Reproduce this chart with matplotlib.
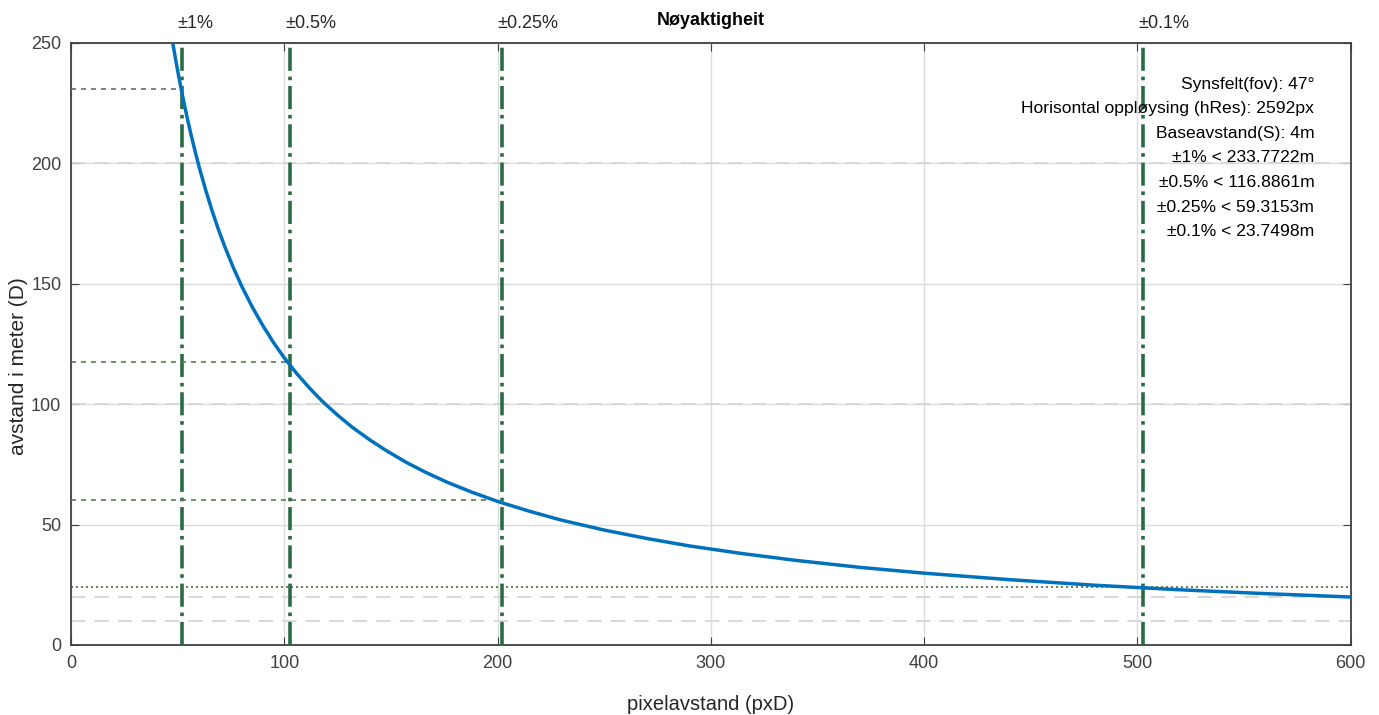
import matplotlib
matplotlib.use('Agg')
import matplotlib.pyplot as plt

plt.rcParams['font.family'] = ['Liberation Sans', 'DejaVu Sans']

# data
pxd = [47.7, 49, 50.5, 52, 54, 56, 58, 60, 63, 66, 69, 72, 76, 80, 85, 90, 95,
       100, 106, 112, 118, 125, 132, 140, 148, 157, 166, 176, 188, 200, 215,
       230, 250, 270, 290, 315, 340, 370, 400, 440, 480, 520, 560, 600]
dist = [250, 243.3, 236.1, 229.3, 220.8, 212.9, 205.6, 198.7, 189.3, 180.7,
        172.8, 165.6, 156.9, 149.0, 140.3, 132.5, 125.5, 119.2, 112.5, 106.5,
        101.0, 95.4, 90.3, 85.2, 80.6, 75.9, 71.8, 67.7, 63.4, 59.6, 55.5,
        51.8, 47.7, 44.2, 41.1, 37.9, 35.1, 32.2, 29.8, 27.1, 24.8, 22.9,
        21.3, 19.9]

levels = ['±1%', '±0.5%', '±0.25%', '±0.1%']
lvl_px = [51.8, 102.5, 202, 502.5]
lvl_d = [231, 117.5, 60, 24]
ref_lines = [10, 20]

info = ['Synsfelt(fov): 47°',
        'Horisontal oppløysing (hRes): 2592px',
        'Baseavstand(S): 4m',
        '±1% < 233.7722m',
        '±0.5% < 116.8861m',
        '±0.25% < 59.3153m',
        '±0.1% < 23.7498m']

fig = plt.figure(figsize=(13.79, 7.15), dpi=100)
ax = fig.add_axes([0.0515, 0.098, 0.928, 0.842])

ax.set_xlim(0, 600)
ax.set_ylim(0, 250)
ax.set_xticks([0, 100, 200, 300, 400, 500, 600])
ax.set_yticks([0, 50, 100, 150, 200, 250])
ax.grid(True, color='#dcdcdc', linewidth=1.0)
ax.set_axisbelow(True)

# dashed grey reference lines
for v in [100, 200] + ref_lines:
    ax.axhline(v, color='#d6d6d6', linestyle=(0, (8, 5)), linewidth=1.3, zorder=1)

# accuracy markers
for p in lvl_px:
    ax.axvline(p, color='#2a6b45', linestyle='-.', linewidth=2.6, zorder=3)
for p, d in zip(lvl_px[:3], lvl_d[:3]):
    ax.plot([0, p], [d, d], color='#5c7a4c', linestyle=(0, (3, 3)), linewidth=1.2, zorder=3)
ax.axhline(lvl_d[3], color='#4f6b3a', linestyle=(0, (1.2, 1.8)), linewidth=1.2, zorder=3)

ax.plot(pxd, dist, color='#0072BD', linewidth=2.5, zorder=4)

for lab, p in zip(levels, lvl_px):
    ax.text(p - 2, 254.5, lab, ha='left', va='bottom', fontsize=13, color='#262626')

ax.text(0.9715, 0.944, '\n'.join(info), transform=ax.transAxes, ha='right', va='top',
        fontsize=12.6, linespacing=1.8, color='black', zorder=5)

ax.set_title('Nøyaktigheit', fontsize=13, fontweight='bold', pad=13)
ax.set_xlabel('pixelavstand (pxD)', fontsize=14.5, color='#262626', labelpad=17)
ax.set_ylabel('avstand i meter (D)', fontsize=15, color='#262626')
ax.yaxis.set_label_coords(-0.034, 0.4635)

ax.tick_params(direction='in', length=6, top=True, right=True, labelsize=13,
               colors='#404040', pad=7)
for s in ax.spines.values():
    s.set_color('#404040')
    s.set_linewidth(1.3)

fig.savefig('out.png', dpi=100)
